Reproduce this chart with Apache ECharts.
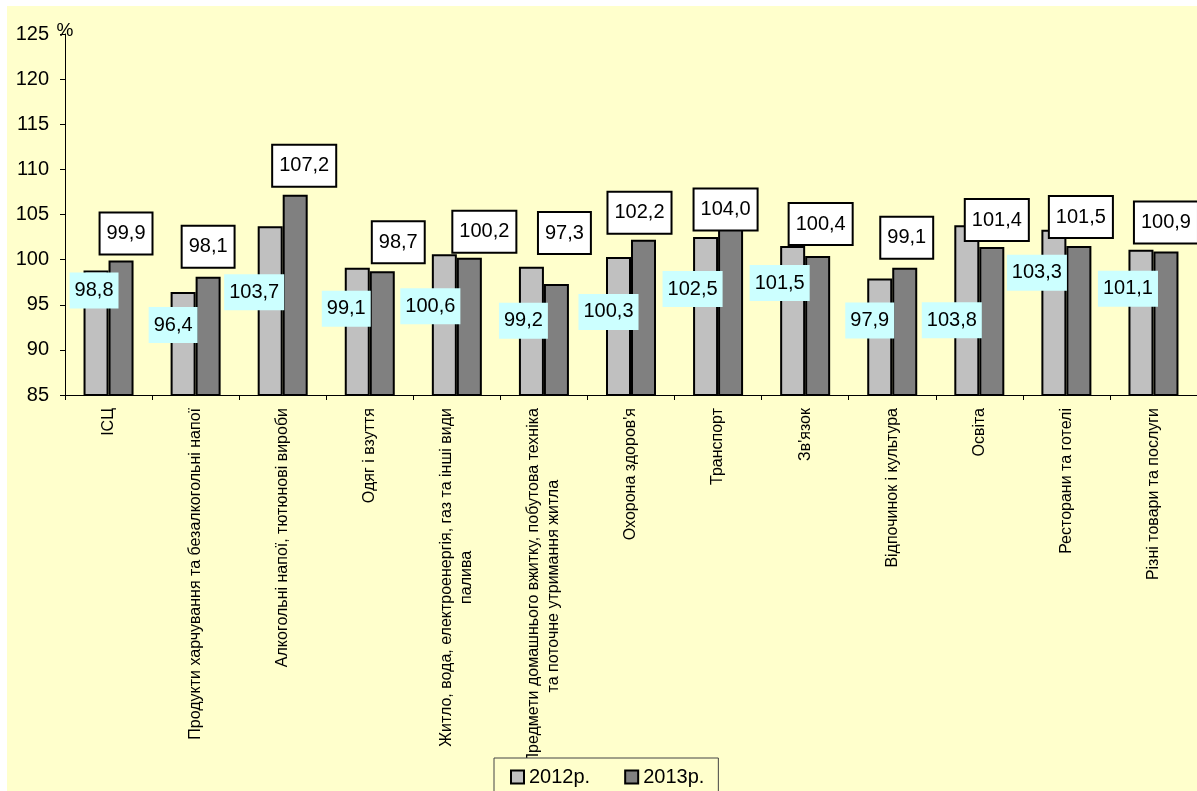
<!DOCTYPE html>
<html>
<head>
<meta charset="utf-8">
<script src="https://cdn.jsdelivr.net/npm/echarts@6/dist/echarts.min.js"></script>
<style>
html,body{margin:0;padding:0;background:#fff;}
#c{width:1197px;height:791px;}
</style>
</head>
<body>
<div id="c"></div>
<script>
const categories = [
  'ІСЦ',
  'Продукти харчування та безалкогольні напої',
  'Алкогольні напої, тютюнові вироби',
  'Одяг і взуття',
  'Житло, вода, електроенергія, газ та інші види\nпалива',
  'Предмети домашнього вжитку, побутова техніка\nта поточне утримання житла',
  "Охорона здоров'я",
  'Транспорт',
  "Зв'язок",
  'Відпочинок і культура',
  'Освіта',
  'Ресторани та готелі',
  'Різні товари та послуги'
];
const seriesNames = ['2012р.', '2013р.'];
const values2012 = [98.8, 96.4, 103.7, 99.1, 100.6, 99.2, 100.3, 102.5, 101.5, 97.9, 103.8, 103.3, 101.1];
const values2013 = [99.9, 98.1, 107.2, 98.7, 100.2, 97.3, 102.2, 104.0, 100.4, 99.1, 101.4, 101.5, 100.9];
const yMin = 85, yMax = 125, yStep = 5;

// label placement (pixel offsets from bar top centre), layout only
const labelShift2012 = [[-2,20],[-10,33],[-16,66],[-11,41],[-14,52],[-8,54],[-10,55],[-13,52],[-13,37],[-10,42],[-15,95],[-17,43],[-13,39]];
const labelShift2013 = [[5,-27],[0,-30],[9,-29],[16,-29],[15,-26],[8,-51],[-4,-27],[-5,-14],[3,-32],[2,-30],[5,-27],[2,-29],[0,-29]];

const FONT = 'Arial, "Liberation Sans", sans-serif';
const fmt = v => v.toFixed(1).replace('.', ',');

function buildData(vals, shifts) {
  return vals.map((v, i) => ({ value: v, label: { offset: shifts[i] } }));
}

const chart = echarts.init(document.getElementById('c'));
chart.setOption({
  backgroundColor: '#ffffff',
  animation: false,
  graphic: [{
    type: 'rect', z: -100, silent: true,
    shape: { x: 7, y: 6, width: 1190, height: 785 },
    style: { fill: '#FFFFCC' }
  }],
  grid: { left: 65, right: 0, top: 34, bottom: 396, containLabel: false },
  legend: {
    data: seriesNames,
    left: 494, top: 758,
    padding: [9, 14, 20, 16],
    itemWidth: 13, itemHeight: 13, itemGap: 34,
    borderColor: '#444', borderWidth: 1,
    backgroundColor: '#FFFFCC',
    icon: 'rect',
    textStyle: { fontFamily: FONT, fontSize: 20, color: '#000' }
  },
  xAxis: {
    type: 'category',
    data: categories,
    axisLine: { lineStyle: { color: '#000', width: 1 } },
    axisTick: { show: true, length: 5, lineStyle: { color: '#000' } },
    axisLabel: {
      interval: 0, rotate: 90, margin: 13,
      color: '#000', fontFamily: FONT, fontSize: 16,
      formatter: v => v.split('\n').map(l => '{c|' + l + '}').join('\n'),
      rich: { c: { align: 'center', fontFamily: FONT, fontSize: 16, color: '#000', lineHeight: 20 } }
    }
  },
  yAxis: {
    type: 'value',
    min: yMin, max: yMax, interval: yStep,
    name: '%',
    nameLocation: 'end',
    nameGap: -6,
    nameTextStyle: { fontFamily: FONT, fontSize: 19, color: '#000', align: 'center' },
    axisLine: { show: true, lineStyle: { color: '#000', width: 1 } },
    axisTick: { show: true, length: 5, lineStyle: { color: '#000' } },
    axisLabel: { margin: 16, color: '#000', fontFamily: FONT, fontSize: 20 },
    splitLine: { show: false }
  },
  series: [
    {
      name: seriesNames[0],
      type: 'bar',
      barWidth: 25,
      barGap: '0%',
      data: buildData(values2012, labelShift2012),
      itemStyle: { color: '#C0C0C0', borderColor: '#000', borderWidth: 2 },
      label: {
        show: true, position: 'top', distance: 0,
        align: 'center', verticalAlign: 'middle',
        formatter: p => fmt(p.value),
        fontFamily: FONT, fontSize: 20, color: '#000', lineHeight: 22,
        backgroundColor: '#CCFFFF', padding: [7, 5]
      }
    },
    {
      name: seriesNames[1],
      type: 'bar',
      barWidth: 25,
      barGap: '0%',
      data: buildData(values2013, labelShift2013),
      itemStyle: { color: '#808080', borderColor: '#000', borderWidth: 2 },
      label: {
        show: true, position: 'top', distance: 0,
        align: 'center', verticalAlign: 'middle',
        formatter: p => fmt(p.value),
        fontFamily: FONT, fontSize: 20, color: '#000', lineHeight: 22,
        backgroundColor: '#ffffff', borderColor: '#000', borderWidth: 2, padding: [9, 6]
      }
    }
  ]
});
</script>
</body>
</html>
